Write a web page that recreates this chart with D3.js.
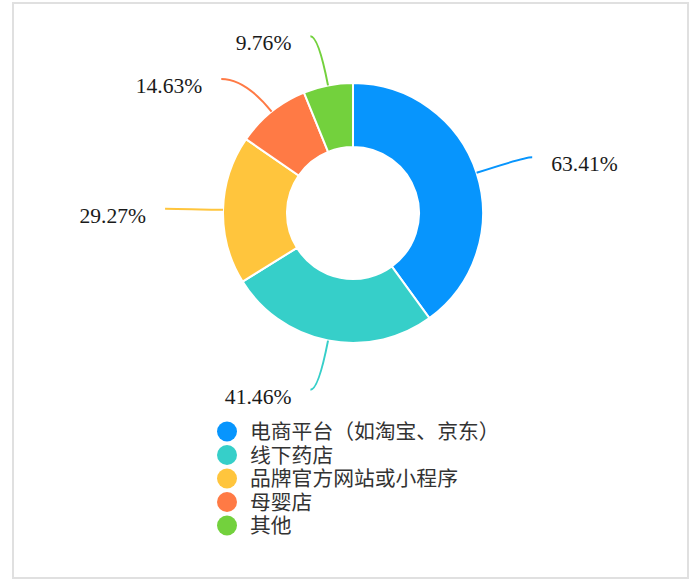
<!DOCTYPE html>
<html>
<head>
<meta charset="utf-8">
<script src="https://cdn.jsdelivr.net/npm/d3@7"></script>
<style>
  body { margin: 0; background: #fff; }
  svg { display: block; }
</style>
</head>
<body>
<div id="chart"></div>
<script>
const categories = ["电商平台（如淘宝、京东）", "线下药店", "品牌官方网站或小程序", "母婴店", "其他"];
const values = [63.41, 41.46, 29.27, 14.63, 9.76];
const valueLabels = ["63.41%", "41.46%", "29.27%", "14.63%", "9.76%"];
const colors = ["#0795fd", "#36cfc9", "#ffc53d", "#ff7a45", "#73d13d"];

// label line lengths (radial part, horizontal part)
const lineLen1 = [50, 50, 50, 42, 50];
const lineLen2 = [8, 8, 8, 24, 8];

const width = 700, height = 584;
const cx = 353, cy = 213, outerR = 130, innerR = 66;

const svg = d3.select("#chart").append("svg")
    .attr("width", width)
    .attr("height", height);

// frame
svg.append("rect")
    .attr("x", 13).attr("y", 3)
    .attr("width", 675).attr("height", 575)
    .attr("fill", "#fff")
    .attr("stroke", "#e0e0e0")
    .attr("stroke-width", 2);

const pie = d3.pie().sort(null).value(d => d)(values);
const arc = d3.arc().innerRadius(innerR).outerRadius(outerR);

const g = svg.append("g")
    .attr("transform", "translate(" + cx + "," + cy + ")");

g.selectAll("path.slice")
    .data(pie)
    .enter().append("path")
    .attr("class", "slice")
    .attr("d", arc)
    .attr("fill", (d, i) => colors[i])
    .attr("stroke", "#fff")
    .attr("stroke-width", 2);

// label lines + texts
pie.forEach(function(d, i) {
  const a = (d.startAngle + d.endAngle) / 2;
  const ux = Math.sin(a), uy = -Math.cos(a);
  const p0 = [ux * outerR, uy * outerR];
  const p1 = [ux * (outerR + lineLen1[i]), uy * (outerR + lineLen1[i])];
  const side = ux >= 0 ? 1 : -1;
  const p2 = [p1[0] + side * lineLen2[i], p1[1]];

  g.append("path")
      .attr("fill", "none")
      .attr("stroke", colors[i])
      .attr("stroke-width", 2)
      .attr("d", `M${p0[0]},${p0[1]} Q${p1[0]},${p1[1]} ${p2[0]},${p2[1]}`);

  g.append("text")
      .attr("x", p2[0] + side * 19)
      .attr("y", p2[1] + 14)
      .attr("text-anchor", side > 0 ? "start" : "end")
      .style("font-family", "'Liberation Serif', 'Times New Roman', serif")
      .style("font-size", "21.6px")
      .style("fill", "#1a1a1a")
      .text(valueLabels[i]);
});

// legend
const legend = svg.append("g")
    .attr("transform", "translate(227,431.5)");

const row = legend.selectAll("g.item")
    .data(categories)
    .enter().append("g")
    .attr("class", "item")
    .attr("transform", (d, i) => "translate(0," + (i * 23.5) + ")");

row.append("circle")
    .attr("r", 10)
    .attr("fill", (d, i) => colors[i]);

row.append("text")
    .attr("x", 23)
    .attr("dy", "0.36em")
    .style("font-family", "'Noto Sans CJK SC', sans-serif")
    .style("font-size", "20.8px")
    .style("fill", "#333")
    .text(d => d);
</script>
</body>
</html>
